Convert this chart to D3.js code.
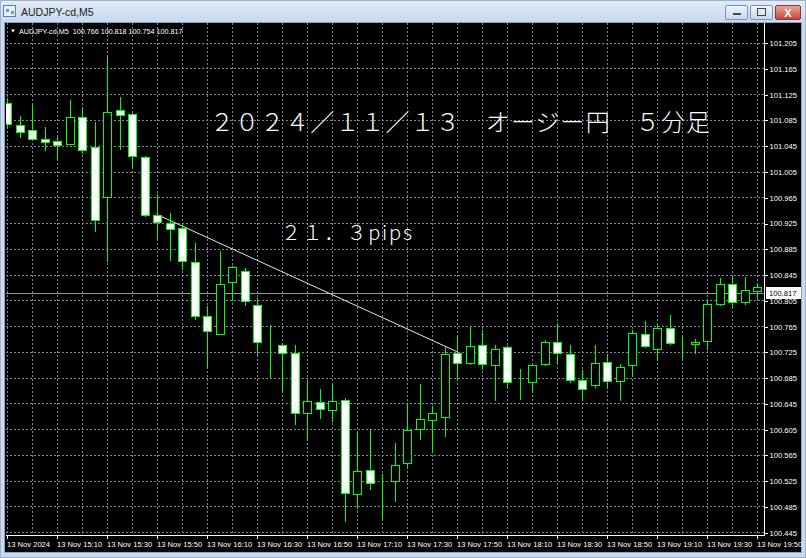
<!DOCTYPE html>
<html>
<head>
<meta charset="utf-8">
<script src="https://cdn.jsdelivr.net/npm/d3@7"></script>
<style>
  body { margin: 0; background: #c9daee; overflow: hidden; }
  svg { display: block; }
</style>
</head>
<body>
<div id="viz"></div>
<script>
var W = 806, H = 558;

var symbol = "AUDJPY-cd,M5";
var headerValues = ["100.766", "100.818", "100.754", "100.817"];
var bidPrice = 100.817;

// 5 minute bars, 13 Nov 2024 14:50 .. 19:50
var opens = [101.112,101.077,101.069,101.055,101.053,101.048,101.090,101.043,100.965,101.101,
             101.094,101.028,100.938,100.925,100.917,100.864,100.780,100.753,100.833,100.850,
             100.797,100.739,100.736,100.724,100.630,100.647,100.635,100.651,100.505,100.541,
             100.524,100.524,100.553,100.605,100.619,100.624,100.723,100.707,100.735,100.704,
             100.733,100.677,100.678,100.706,100.740,100.721,100.682,100.673,100.709,100.679,
             100.704,100.752,100.730,100.762,100.736,100.737,100.742,100.799,100.831,100.803,100.820];
var highs = [101.119,101.091,101.109,101.074,101.058,101.116,101.103,101.082,101.184,101.120,
             101.096,101.029,100.970,100.940,100.925,100.894,100.796,100.882,100.858,100.855,
             100.808,100.767,100.739,100.735,100.680,100.667,100.673,100.653,100.601,100.605,
             100.536,100.583,100.645,100.675,100.641,100.733,100.748,100.763,100.759,100.736,
             100.734,100.698,100.705,100.744,100.768,100.735,100.697,100.736,100.722,100.706,
             100.759,100.773,100.767,100.782,100.748,100.745,100.805,100.839,100.843,100.841,100.831];
var lows = [101.073,101.058,101.054,101.039,101.024,101.047,101.034,100.913,100.866,101.040,
            101.012,100.936,100.902,100.868,100.853,100.776,100.701,100.752,100.807,100.797,
            100.722,100.686,100.663,100.613,100.588,100.623,100.618,100.463,100.482,100.512,
            100.466,100.494,100.547,100.590,100.569,100.595,100.683,100.706,100.699,100.650,
            100.670,100.652,100.663,100.705,100.707,100.678,100.650,100.670,100.670,100.650,
            100.687,100.733,100.712,100.737,100.715,100.724,100.730,100.798,100.796,100.800,100.808];
var closes = [101.078,101.067,101.055,101.051,101.046,101.089,101.039,100.930,101.098,101.092,
              101.029,100.937,100.926,100.915,100.866,100.780,100.758,100.830,100.857,100.804,
              100.740,100.739,100.723,100.630,100.648,100.636,100.648,100.506,100.540,100.522,
              100.524,100.549,100.604,100.620,100.630,100.722,100.707,100.734,100.706,100.730,
              100.678,100.677,100.704,100.740,100.723,100.682,100.668,100.708,100.680,100.701,
              100.754,100.734,100.762,100.738,100.736,100.740,100.800,100.830,100.802,100.821,100.825];

var timeLabelBars = [0, 4, 8, 12, 16, 20, 24, 28, 32, 36, 40, 44, 48, 52, 56, 60];
var timeLabels = ["13 Nov 2024", "13 Nov 15:10", "13 Nov 15:30", "13 Nov 15:50",
                  "13 Nov 16:10", "13 Nov 16:30", "13 Nov 16:50", "13 Nov 17:10",
                  "13 Nov 17:30", "13 Nov 17:50", "13 Nov 18:10", "13 Nov 18:30",
                  "13 Nov 18:50", "13 Nov 19:10", "13 Nov 19:30", "13 Nov 19:50"];
var priceTicks = [101.205, 101.165, 101.125, 101.085, 101.045, 101.005, 100.965,
                  100.925, 100.885, 100.845, 100.805, 100.765, 100.725, 100.685,
                  100.645, 100.605, 100.565, 100.525, 100.485, 100.445];

// trend line drawn on the chart
var trendBars = [12, 36];
var trendPrices = [100.938, 100.725];

var titleText = "２０２４／１１／１３　オージー円　５分足";
var pipsText = "２１．３pips";

var uiFont = "'Liberation Sans', Arial, sans-serif";
var jpFont = "'Noto Sans CJK JP', 'Noto Sans', sans-serif";

var plotL = 6, plotR = 764.5, plotT = 23, plotB = 535.5;

var x = d3.scaleLinear().domain([0, opens.length - 1]).range([7.3, 757.3]);
var y = d3.scaleLinear().domain([100.445, 101.205]).range([532.2, 42.7]);

function px(v) { return Math.round(v) + 0.5; }

var svg = d3.select("#viz").append("svg")
    .attr("width", W).attr("height", H)
    .attr("shape-rendering", "crispEdges");

var defs = svg.append("defs");
var tg = defs.append("linearGradient").attr("id", "titlebar").attr("x1", 0).attr("y1", 0).attr("x2", 0).attr("y2", 1);
tg.append("stop").attr("offset", "0%").attr("stop-color", "#e4edf8");
tg.append("stop").attr("offset", "100%").attr("stop-color", "#c6d8ee");
var bg = defs.append("linearGradient").attr("id", "btn").attr("x1", 0).attr("y1", 0).attr("x2", 0).attr("y2", 1);
bg.append("stop").attr("offset", "0%").attr("stop-color", "#f2f6fb");
bg.append("stop").attr("offset", "100%").attr("stop-color", "#c9d7ea");
var cg = defs.append("linearGradient").attr("id", "close").attr("x1", 0).attr("y1", 0).attr("x2", 0).attr("y2", 1);
cg.append("stop").attr("offset", "0%").attr("stop-color", "#e9a89f");
cg.append("stop").attr("offset", "100%").attr("stop-color", "#c4463a");
defs.append("clipPath").attr("id", "plotclip").append("rect")
    .attr("x", plotL).attr("y", plotT).attr("width", plotR - plotL).attr("height", plotB - plotT);

// window frame and title bar
svg.append("rect").attr("width", W).attr("height", H).attr("fill", "#c9daee");
svg.append("rect").attr("width", W).attr("height", 23).attr("fill", "url(#titlebar)");
svg.append("rect").attr("x", 0.5).attr("y", 0.5).attr("width", W - 1).attr("height", H - 1)
    .attr("fill", "none").attr("stroke", "#9bb3cf");

// title icon
var icon = svg.append("g");
icon.append("rect").attr("x", 3.5).attr("y", 5.5).attr("width", 12).attr("height", 11)
    .attr("fill", "#e8f0fa").attr("stroke", "#5a7fb0");
icon.append("rect").attr("x", 5.5).attr("y", 8.5).attr("width", 3).attr("height", 3).attr("fill", "#6e96c8");
icon.append("rect").attr("x", 10.5).attr("y", 10.5).attr("width", 3).attr("height", 3).attr("fill", "#6e96c8");

svg.append("text").attr("x", 21).attr("y", 16)
    .attr("font-family", uiFont).attr("font-size", 10.5).attr("fill", "#1a1a1a")
    .text(symbol);

// window buttons
svg.append("rect").attr("x", 725.5).attr("y", 5.5).attr("width", 22).attr("height", 14).attr("rx", 2)
    .attr("fill", "url(#btn)").attr("stroke", "#7d93b2");
svg.append("rect").attr("x", 732.5).attr("y", 12.5).attr("width", 8).attr("height", 2).attr("fill", "#445").attr("stroke", "none");
svg.append("rect").attr("x", 750.5).attr("y", 5.5).attr("width", 22).attr("height", 14).attr("rx", 2)
    .attr("fill", "url(#btn)").attr("stroke", "#7d93b2");
svg.append("rect").attr("x", 757.5).attr("y", 8.5).attr("width", 8).attr("height", 7).attr("fill", "none").attr("stroke", "#445");
svg.append("rect").attr("x", 775.5).attr("y", 5.5).attr("width", 25).attr("height", 14).attr("rx", 2)
    .attr("fill", "url(#close)").attr("stroke", "#8a3a33");
svg.append("text").attr("x", 788).attr("y", 16.5).attr("text-anchor", "middle")
    .attr("font-family", uiFont).attr("font-size", 11).attr("font-weight", "bold").attr("fill", "#fff")
    .text("X");

// chart background
svg.append("rect").attr("x", 4.5).attr("y", 22.5).attr("width", 797).attr("height", 530)
    .attr("fill", "#000").attr("stroke", "#8ea3bd");

// grid
var grid = svg.append("g").attr("clip-path", "url(#plotclip)")
    .attr("stroke", "#778899").attr("stroke-dasharray", "2,2").attr("stroke-width", 1);
grid.selectAll("line.h").data(priceTicks).enter().append("line").attr("class", "h")
    .attr("x1", plotL).attr("x2", plotR)
    .attr("y1", function(d) { return px(y(d)); }).attr("y2", function(d) { return px(y(d)); });
grid.selectAll("line.v").data(d3.range(0, opens.length, 2)).enter().append("line").attr("class", "v")
    .attr("y1", plotT).attr("y2", plotB)
    .attr("x1", function(d) { return px(x(d)); }).attr("x2", function(d) { return px(x(d)); });

// bid line
svg.append("line").attr("x1", plotL).attr("x2", plotR)
    .attr("y1", px(y(bidPrice))).attr("y2", px(y(bidPrice)))
    .attr("stroke", "#9a9a9a");

// trend line
svg.append("line")
    .attr("shape-rendering", "auto")
    .attr("x1", x(trendBars[0])).attr("y1", y(trendPrices[0]))
    .attr("x2", x(trendBars[1])).attr("y2", y(trendPrices[1]))
    .attr("stroke", "#e6e6e6").attr("stroke-width", 1);

// candles
var bars = d3.range(opens.length).map(function(i) {
    return { i: i, o: opens[i], h: highs[i], l: lows[i], c: closes[i] };
});
var plot = svg.append("g").attr("clip-path", "url(#plotclip)");
var candle = plot.selectAll("g.candle").data(bars).enter().append("g").attr("class", "candle");
candle.append("line")
    .attr("x1", function(d) { return px(x(d.i)); }).attr("x2", function(d) { return px(x(d.i)); })
    .attr("y1", function(d) { return Math.round(y(d.h)); })
    .attr("y2", function(d) { return Math.round(y(d.l)) + 1; })
    .attr("stroke", "#00ff00");
candle.append("rect")
    .attr("x", function(d) { return px(x(d.i)) - 4; })
    .attr("y", function(d) { return px(y(Math.max(d.o, d.c))); })
    .attr("width", 8)
    .attr("height", function(d) { return Math.max(0, Math.round(y(Math.min(d.o, d.c))) - Math.round(y(Math.max(d.o, d.c)))); })
    .attr("fill", function(d) { return d.c < d.o ? "#ffffff" : "#000000"; })
    .attr("stroke", "#00ff00");

// frame of the plot (right and bottom)
svg.append("line").attr("x1", plotR).attr("x2", plotR).attr("y1", plotT).attr("y2", plotB + 0.5).attr("stroke", "#ffffff");
svg.append("line").attr("x1", plotL).attr("x2", plotR).attr("y1", plotB).attr("y2", plotB).attr("stroke", "#ffffff");

// price axis
var yAxis = d3.axisRight(y).tickValues(priceTicks).tickSize(3).tickPadding(2)
    .tickFormat(d3.format(".3f"));
var ya = svg.append("g").attr("transform", "translate(" + plotR + ",0.5)").call(yAxis);
ya.select(".domain").remove();
ya.selectAll(".tick line").attr("stroke", "#ffffff");
ya.selectAll(".tick text").attr("fill", "#ffffff").attr("font-family", uiFont).attr("font-size", 7.6);

// bid price label
var by = Math.round(y(bidPrice));
svg.append("rect").attr("x", 766).attr("y", by - 6).attr("width", 35).attr("height", 12).attr("fill", "#ffffff");
svg.append("text").attr("x", 769).attr("y", by + 3)
    .attr("font-family", uiFont).attr("font-size", 7.6).attr("fill", "#000")
    .text(d3.format(".3f")(bidPrice));

// time axis
var xa = svg.append("g");
xa.selectAll("line").data(timeLabelBars).enter().append("line")
    .attr("x1", function(d) { return px(x(d)); }).attr("x2", function(d) { return px(x(d)); })
    .attr("y1", plotB).attr("y2", plotB + 3)
    .attr("stroke", "#ffffff");
xa.selectAll("text").data(timeLabelBars).enter().append("text")
    .attr("x", function(d) { return Math.round(x(d)); })
    .attr("y", 546.5)
    .attr("font-family", uiFont).attr("font-size", 7.6).attr("fill", "#ffffff")
    .text(function(d, i) { return timeLabels[i]; });

// header line
svg.append("path").attr("d", "M11,29.5 L15,29.5 L13,32.5 Z").attr("fill", "#ffffff").attr("shape-rendering", "auto");
svg.append("text").attr("x", 19).attr("y", 33.5)
    .attr("font-family", uiFont).attr("font-size", 7.2).attr("fill", "#ffffff")
    .attr("xml:space", "preserve")
    .text(symbol + "  " + headerValues.join(" "));

// annotations
svg.append("text").attr("x", 210).attr("y", 131)
    .attr("font-family", jpFont).attr("font-size", 24).attr("font-weight", 300)
    .attr("fill", "#ffffff").attr("textLength", 500).attr("lengthAdjust", "spacing")
    .text(titleText);
svg.append("text").attr("x", 281).attr("y", 240)
    .attr("font-family", jpFont).attr("font-size", 20).attr("font-weight", 300)
    .attr("fill", "#ffffff").attr("textLength", 131).attr("lengthAdjust", "spacing")
    .text(pipsText);
</script>
</body>
</html>
